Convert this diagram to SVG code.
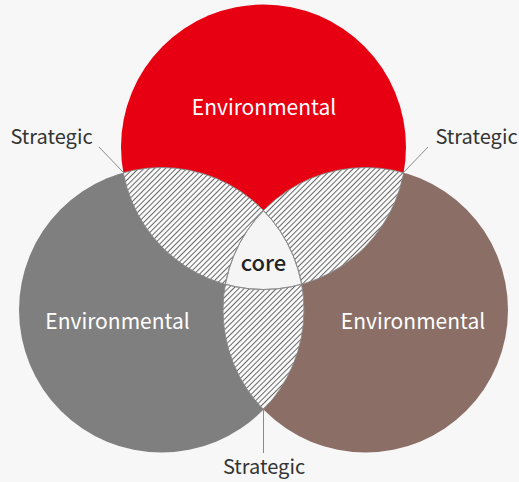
<svg xmlns="http://www.w3.org/2000/svg" width="519" height="482" viewBox="0 0 519 482">
<style>
.lbl{font-family:"Noto Sans CJK JP","Noto Sans","Liberation Sans",sans-serif;text-anchor:middle;font-weight:400}
.env{fill:#ffffff;font-size:21px}
.str{fill:#333333;font-size:20px}
.core{fill:#222222;font-size:22px;font-weight:500}
.edge{fill:none;stroke:#8a8a8a;stroke-width:0.9}
.lead{stroke:#8a8a8a;stroke-width:1;fill:none}
</style>
<defs>
<pattern id="hatch" patternUnits="userSpaceOnUse" width="3.8" height="10" patternTransform="rotate(45)">
<rect x="0" y="0" width="3.8" height="10" fill="#fafafa"/>
<line x1="0.5" y1="0" x2="0.5" y2="10" stroke="#555555" stroke-width="0.9"/>
</pattern>
<clipPath id="cR"><circle cx="263.5" cy="147" r="142.5"/></clipPath>
<clipPath id="cG"><circle cx="161.5" cy="310" r="142.5"/></clipPath>
<clipPath id="cB"><circle cx="365.5" cy="310" r="142.5"/></clipPath>
</defs>
<rect width="519" height="482" fill="#f7f7f7"/>
<g id="node-red"><circle cx="263.5" cy="147" r="142.5" fill="#e60012"/></g>
<g id="node-gray"><circle cx="161.5" cy="310" r="142.5" fill="#7f7f7f"/></g>
<g id="node-brown"><circle cx="365.5" cy="310" r="142.5" fill="#8b6e65"/></g>
<g id="overlap-red-gray" clip-path="url(#cR)"><circle cx="161.5" cy="310" r="142.5" fill="url(#hatch)"/></g>
<g id="overlap-red-brown" clip-path="url(#cR)"><circle cx="365.5" cy="310" r="142.5" fill="url(#hatch)"/></g>
<g id="overlap-gray-brown" clip-path="url(#cG)"><circle cx="365.5" cy="310" r="142.5" fill="url(#hatch)"/></g>
<g id="node-core">
<g clip-path="url(#cR)"><g clip-path="url(#cG)"><circle cx="365.5" cy="310" r="142.5" fill="#f5f5f5"/></g></g>
</g>
<g id="edges">
<g clip-path="url(#cG)"><circle class="edge" cx="263.5" cy="147" r="142.5"/><circle class="edge" cx="365.5" cy="310" r="142.5"/></g>
<g clip-path="url(#cB)"><circle class="edge" cx="263.5" cy="147" r="142.5"/><circle class="edge" cx="161.5" cy="310" r="142.5"/></g>
<g clip-path="url(#cR)"><circle class="edge" cx="161.5" cy="310" r="142.5"/><circle class="edge" cx="365.5" cy="310" r="142.5"/></g>
</g>
<g id="connectors">
<line class="lead" x1="99" y1="147" x2="123" y2="172"/>
<line class="lead" x1="428" y1="147" x2="404" y2="172"/>
<line class="lead" x1="263.5" y1="408" x2="263.5" y2="453"/>
</g>
<g id="labels">
<text class="lbl env" x="264" y="115">Environmental</text>
<text class="lbl env" x="117.5" y="329">Environmental</text>
<text class="lbl env" x="413" y="329">Environmental</text>
<text class="lbl core" x="263.5" y="271">core</text>
<text class="lbl str" x="51.5" y="144">Strategic</text>
<text class="lbl str" x="476.5" y="144">Strategic</text>
<text class="lbl str" x="264" y="474">Strategic</text>
</g>
</svg>
